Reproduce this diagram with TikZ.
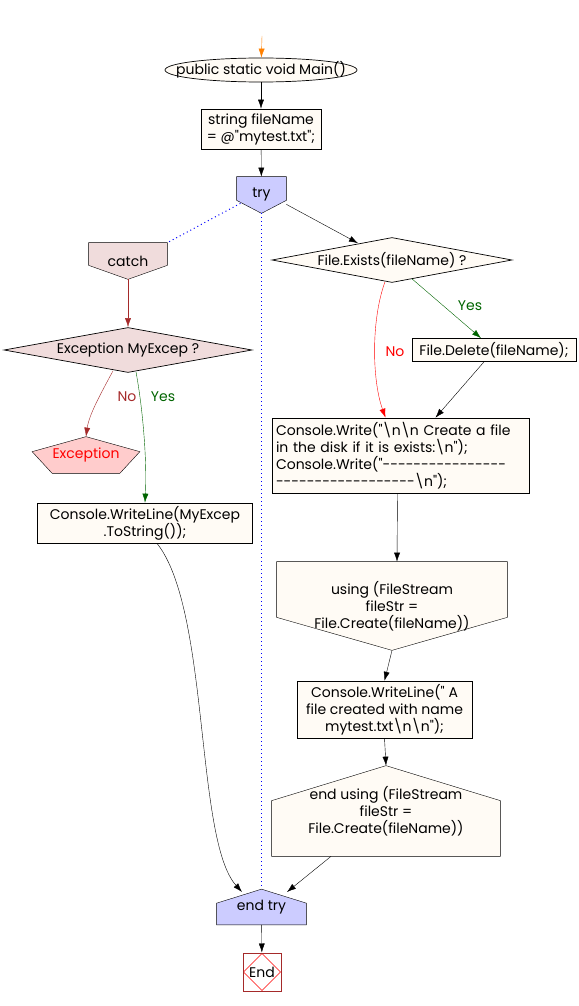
\documentclass[tikz,border=0pt]{standalone}
\usepackage{fontspec}
\setmainfont{Poppins}[Ligatures=TeXOff]
\usetikzlibrary{arrows.meta,shapes.geometric,calc}
\pgfdeclarelayer{background}
\pgfsetlayers{background,main}
\definecolor{cream}{HTML}{FFFBF5}
\definecolor{tryblue}{HTML}{CCCCFF}
\definecolor{catchpink}{HTML}{F0DCDC}
\definecolor{excpink}{HTML}{FFCCCC}
\definecolor{darkred}{HTML}{A52A2A}
\definecolor{darkgreen}{HTML}{006400}

\begin{document}
\begin{tikzpicture}[x=1pt,y=-1pt,->,>={Latex[length=9pt,width=6pt]},line width=0.7pt,
                    every node/.style={font=\fontsize{14}{17}\selectfont,align=center}]
  \tikzstyle{box}=[draw=black,fill=cream,inner sep=3pt]
  \tikzstyle{tag}=[draw=none,inner sep=0pt]
  \tikzstyle{decision}=[diamond,draw=black,inner sep=0pt]
  \tikzstyle{loopline}=[-,blue,line width=1pt,dash pattern=on 1pt off 3pt]
  \useasboundingbox (0,0) rectangle (578,1006);

  \node[ellipse,box,minimum width=192,minimum height=24,inner xsep=-18pt,inner ysep=0pt] (main) at (261,70) {public static void Main()};
  \node[box,minimum width=120,minimum height=40] (fname) at (261,129) {string fileName\\= @"mytest.txt";};
  \node[tag,minimum width=49,minimum height=36] (try) at (261.5,195) {try};

  \node[tag,minimum width=78,minimum height=36] (catch) at (128,261) {catch};
  \node[decision,fill=catchpink,aspect=5.5,minimum width=248,minimum height=45] (excq) at (128,350) {Exception MyExcep ?};
  \node[tag,minimum width=107,minimum height=36,text=red] (exc) at (86,455) {Exception};
  \node[box,minimum width=215,minimum height=40] (wline) at (145,523) {Console.WriteLine(MyExcep\\.ToString());};

  \node[decision,fill=cream,aspect=5.3,minimum width=240,minimum height=45] (exists) at (392,260) {File.Exists(fileName) ?};
  \node[box,minimum width=164,minimum height=23] (delete) at (494,350) {File.Delete(fileName);};
  \node[box,text width=249,inner sep=4pt,minimum height=75,align=left] (write) at (400.5,455.5)
    {Console.Write("\textbackslash n\textbackslash n Create a file\\in the disk if it is exists:\textbackslash n");\\Console.Write("----------------\\------------------\textbackslash n");};
  \node[tag,minimum width=230,minimum height=88] (using) at (392,606) {using (FileStream\\fileStr =\\File.Create(fileName))};
  \node[box,minimum width=175,minimum height=55] (wline2) at (384.5,709.5) {Console.WriteLine(" A\\file created with name\\mytest.txt\textbackslash n\textbackslash n");};
  \node[tag,minimum width=228,minimum height=90] (endusing) at (386,811) {end using (FileStream\\fileStr =\\File.Create(fileName))};

  \node[tag,minimum width=89,minimum height=35] (endtry) at (261.5,907) {end try};
  \node[draw=darkred,line width=1pt,minimum size=38,inner sep=0pt] (end) at (262,972) {End};

  % labels
  \node[text=darkred] (no1) at (127,397) {No};
  \node[text=darkgreen] (yes1) at (163,397) {Yes};
  \node[text=darkgreen] (yes2) at (470,306) {Yes};
  \node[text=red] (no2) at (395,352) {No};

  \coordinate (start) at (262,36);
  \coordinate (tryin) at (242,892);
  \coordinate (tryin2) at (287,892);

  \begin{pgfonlayer}{background}
    \filldraw[-,fill=tryblue] (try.north west) -- (try.north east) -- ($(try.south east)+(0,-13)$)
      -- (try.south) -- ($(try.south west)+(0,-13)$) -- cycle;
    \filldraw[-,fill=catchpink] (catch.north west) -- (catch.north east) -- ($(catch.south east)+(0,-14)$)
      -- (catch.south) -- ($(catch.south west)+(0,-14)$) -- cycle;
    \filldraw[-,fill=excpink] (exc.north) -- ($(exc.north east)+(0,15)$) -- ($(exc.south east)+(-20,0)$)
      -- ($(exc.south west)+(20,0)$) -- ($(exc.north west)+(0,15)$) -- cycle;
    \filldraw[-,fill=cream] (using.north west) -- (using.north east) -- ($(using.south east)+(0,-33)$)
      -- (using.south) -- ($(using.south west)+(0,-33)$) -- cycle;
    \filldraw[-,fill=cream] (endusing.north) -- ($(endusing.north east)+(0,35)$) -- (endusing.south east)
      -- (endusing.south west) -- ($(endusing.north west)+(0,35)$) -- cycle;
    \filldraw[-,fill=tryblue] (endtry.north) -- ($(endtry.north east)+(0,14)$) -- (endtry.south east)
      -- (endtry.south west) -- ($(endtry.north west)+(0,14)$) -- cycle;
    \draw[-,red,line width=0.4pt] ($(end.north)+(0,1)$) -- ($(end.east)+(-1,0)$) -- ($(end.south)+(0,-1)$)
      -- ($(end.west)+(1,0)$) -- cycle;
  \end{pgfonlayer}

  \draw[orange] (start) -- (main);
  \draw (main) -- (fname);
  \draw (fname) -- (try);
  \draw[loopline] ($(try.south)+(-21,-10)$) -- (catch.north east);
  \draw[loopline] (try.south) -- (endtry.north);
  \draw ($(try.south east)+(0,-9)$) -- ($(exists.north)+(-34,6)$);

  \draw[darkred] (catch.south) -- (excq.north);
  \draw[darkred] ($(excq.south)+(-15,-2)$) .. controls (100,395) and (89,415) .. (exc.north);
  \draw[darkgreen] ($(excq.south)+(8,-1)$) .. controls (143,410) and (147,460) .. (wline.north);
  \draw ($(wline.south)+(12,0)$) .. controls (210,610) and (195,840) .. (tryin);

  \draw[darkgreen] ($(exists.south)+(20,-4)$) -- ($(delete.north)+(-13,0)$);
  \draw[red] ($(exists.south)+(-7,-1)$) .. controls (371,320) and (372,380) .. ($(write.north)+(-15,0)$);
  \draw ($(delete.south)+(-10,0)$) -- ($(write.north)+(35,0)$);
  \draw ($(write.south)+(-3,0)$) -- (using.north -| 397,0);
  \draw (using.south) -- (wline2.north);
  \draw (wline2.south) -- (endusing.north);
  \draw ($(endusing.south)+(-55,0)$) -- (tryin2);
  \draw (endtry) -- (end);
\end{tikzpicture}
\end{document}
